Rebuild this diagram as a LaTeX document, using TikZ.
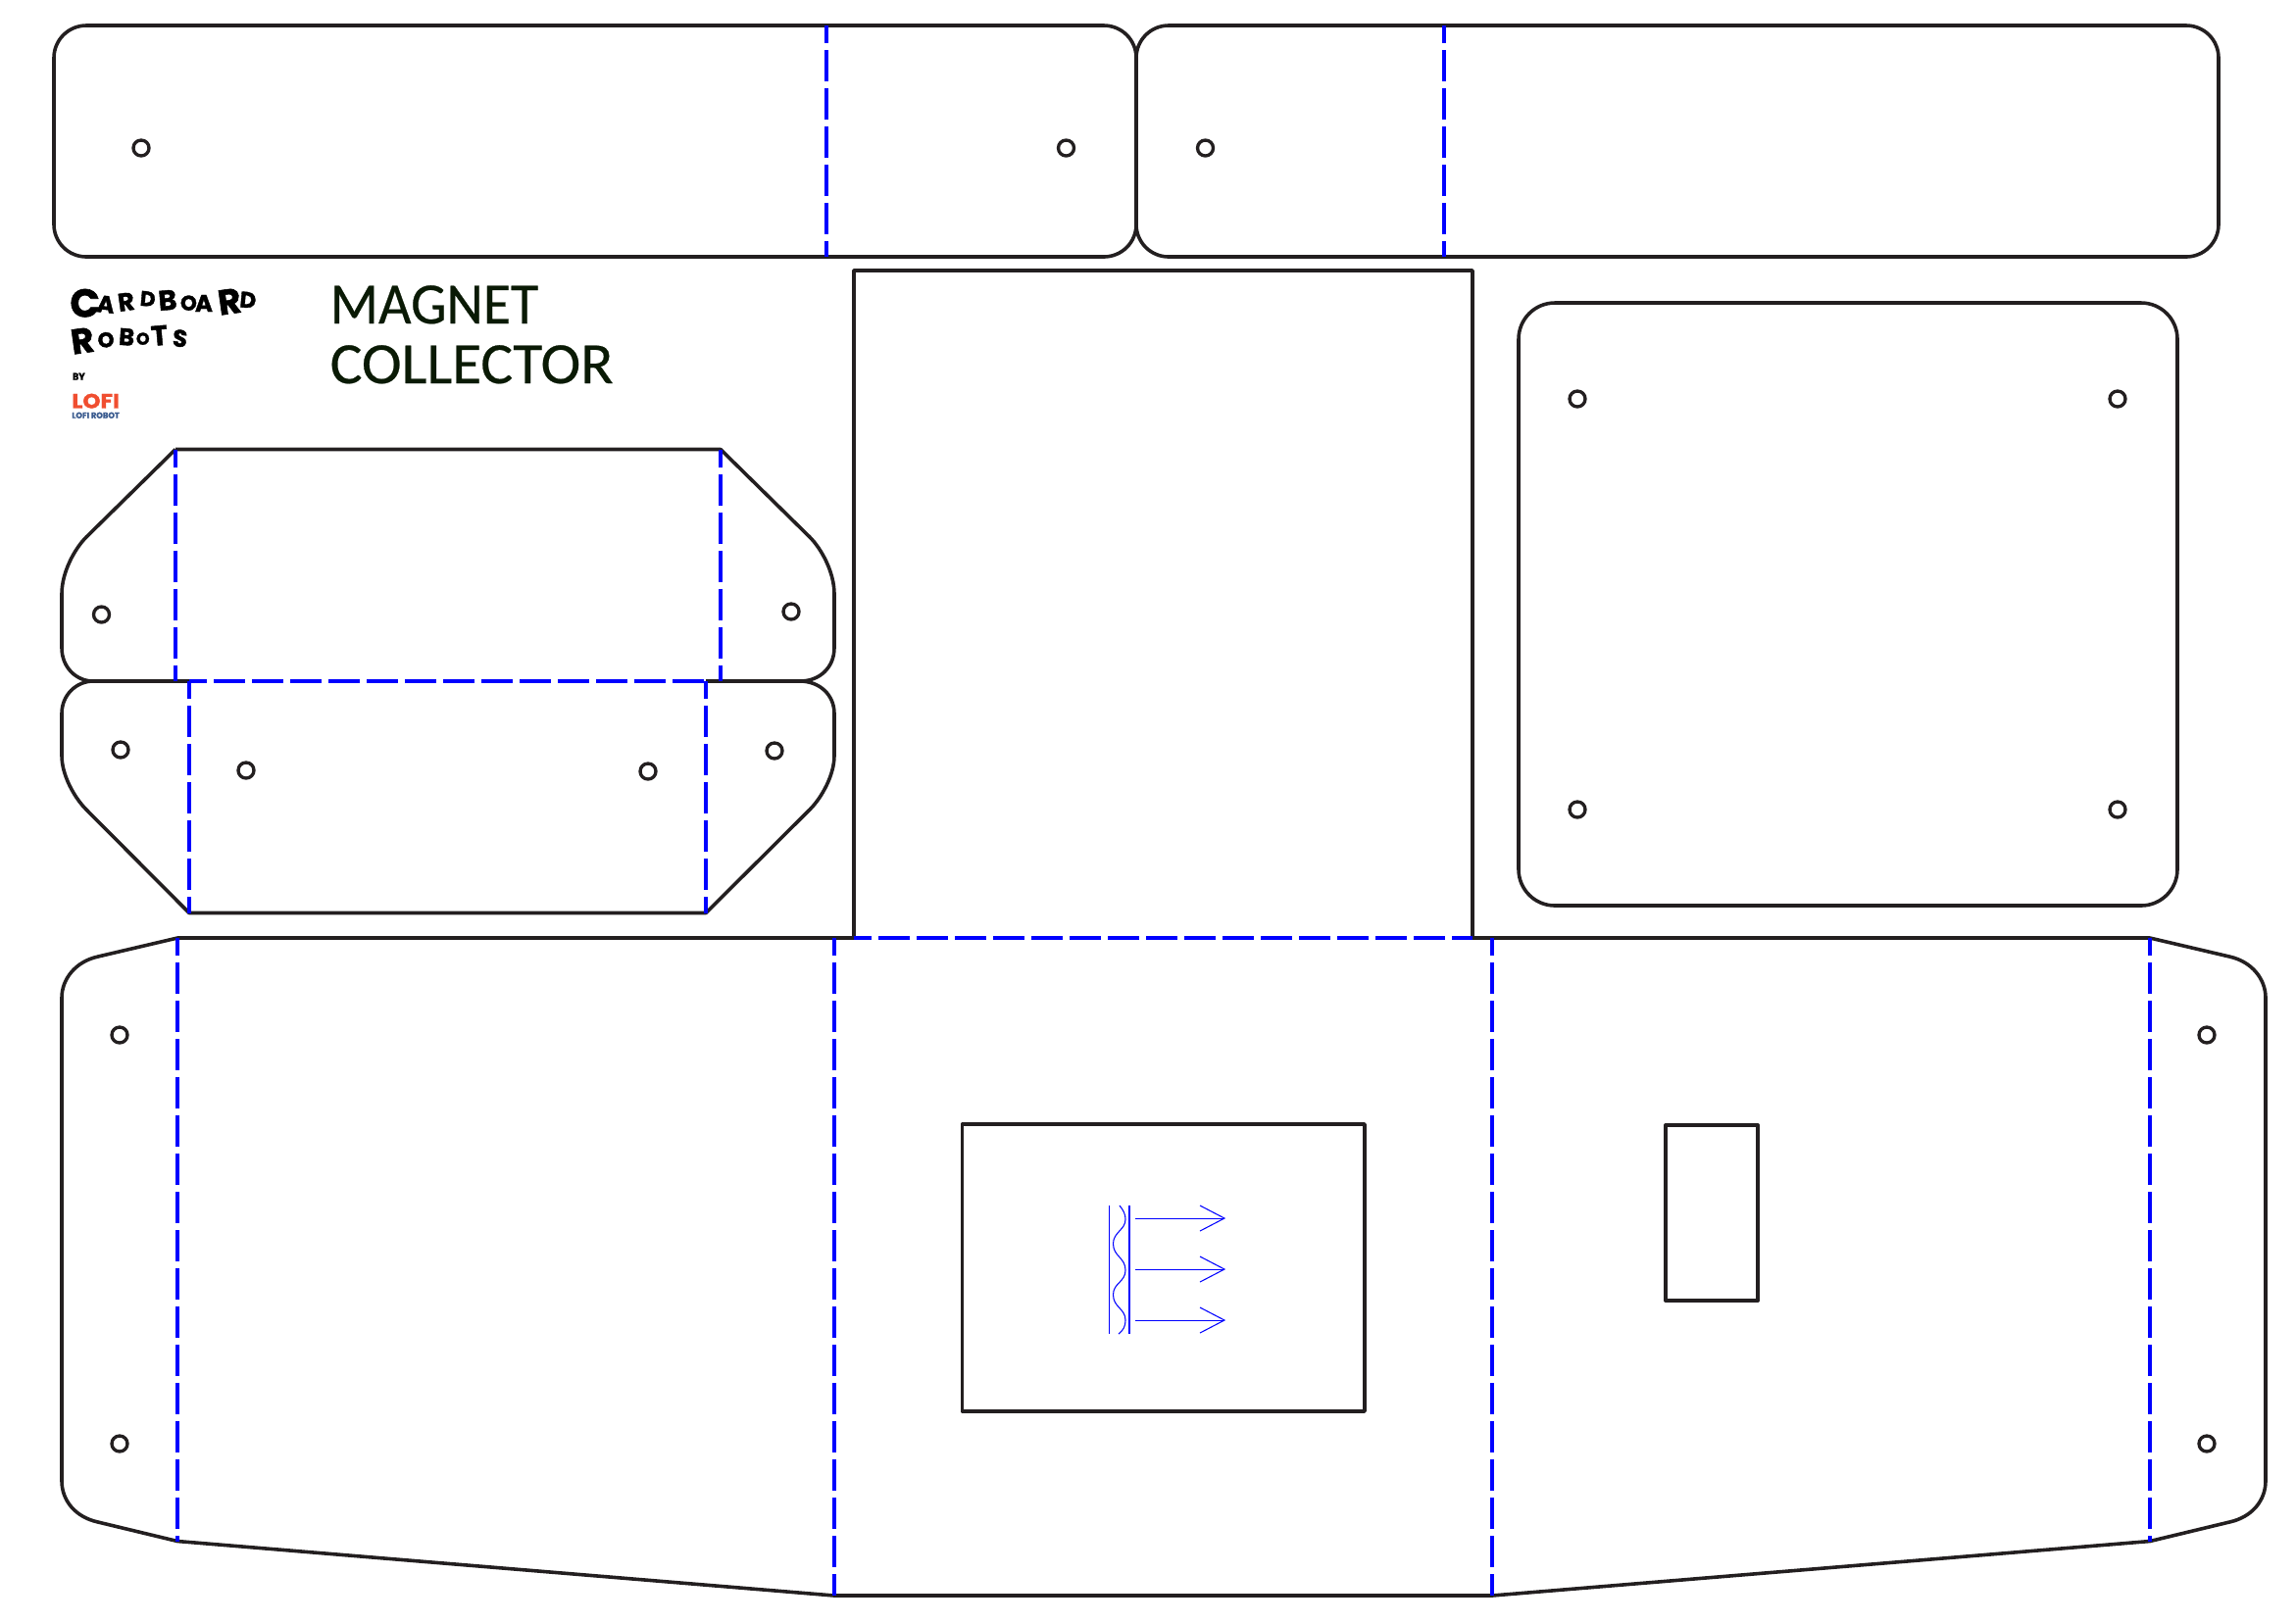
\documentclass[tikz,border=0pt]{standalone}
\usepackage{fontspec}
\setmainfont[FakeBold=0.4]{Carlito}
\newfontfamily\handfont[BoldFeatures={FakeBold=1.5}]{Poppins}
\usetikzlibrary{positioning}
\newcommand{\unitsize}{0.01cm}
\newlength{\handunit}
\setlength{\handunit}{0.01cm}
% one hand drawn letter: cell width, raise, angle, size, letter
\newcommand{\handletter}[5]{\makebox[#1\handunit][l]{\raisebox{#2\handunit}{\rotatebox{#3}{\fontsize{#4}{#4}\selectfont #5}}}}
\definecolor{cutblack}{HTML}{231F20}
\definecolor{foldblue}{HTML}{0000FF}
\definecolor{titledark}{HTML}{0A1A05}
\definecolor{lofired}{HTML}{F04E30}
\definecolor{lofiblue}{HTML}{3A5B8F}

\begin{document}
\begin{tikzpicture}[x=\unitsize,y=-\unitsize]
\useasboundingbox (0,0) rectangle (2342,1656);
\tikzstyle{cut}=[draw=cutblack,line width=1.02pt,line join=round]
\tikzstyle{fold}=[draw=foldblue,line width=1.13pt,dash pattern=on 0.32cm off 0.07cm,dash phase=0.14cm]
\tikzstyle{hole}=[draw=cutblack,circle,fill=white,line width=0.95pt,minimum size=0.16cm,inner sep=0pt]
\tikzstyle{thinblue}=[draw=foldblue,line width=0.3pt]
\tikzstyle{title}=[anchor=base west,inner sep=0pt,text=titledark,font=\fontsize{17}{20}\selectfont]
\tikzstyle{brand}=[anchor=north west,inner sep=0pt]
\tikzstyle{hand}=[anchor=base west,inner sep=0pt,font=\handfont\bfseries]

% top straps
\draw[cut,rounded corners=0.33cm] (55,26) rectangle (1159,262);
\draw[cut,rounded corners=0.33cm] (1159,26) rectangle (2263,262);
\draw[fold] (843,26) -- (843,262);
\draw[fold] (1473,26) -- (1473,262);

\node[hole] (strapa) at (144,151) {};
\node[hole] (strapb) at (1087.5,151) {};
\node[hole] (strapc) at (1229.5,151) {};

\begin{scope}[yshift=-0.01cm]
% side flaps
\draw[cut] (179,457.5) -- (735,457.5) -- (826,547)
  .. controls (838,559) and (851,583) .. (851,605) -- (851,660)
  .. controls (851,680) and (836,694) .. (816,694) -- (720,694);
\draw[cut] (193,694) -- (95,694) .. controls (78,694) and (63,680) .. (63,660)
  -- (63,605) .. controls (63,583) and (76,559) .. (88,547) -- (179,457.5);
\draw[cut] (95,694) .. controls (78,694) and (63,708) .. (63,727) -- (63,770)
  .. controls (63,790) and (76,813) .. (88,825) -- (193,930.5) -- (720,930.5) -- (826,825)
  .. controls (838,813) and (851,790) .. (851,770) -- (851,727)
  .. controls (851,708) and (836,694) .. (816,694);
\draw[fold] (179,457.5) -- (179,694);
\draw[fold] (735,457.5) -- (735,694);
\draw[fold] (193,694) -- (720,694);
\draw[fold] (193,694) -- (193,930.5);
\draw[fold] (720,694) -- (720,930.5);

\node[hole] (flapa) at (103.5,626) {};
\node[hole] (flapb) at (807,623) {};
\node[hole] (flapc) at (123,764) {};
\node[hole] (flapd) at (251,785) {};
\node[hole] (flape) at (661,786) {};
\node[hole] (flapf) at (790,765) {};

% back panel
\draw[cut] (871,956) -- (871,275) -- (1502,275) -- (1502,956);

% lid
\draw[cut,rounded corners=0.37cm] (1549,308) rectangle (2221,923);

\node[hole] (lida) at (1609,406) {};
\node[hole] (lidb) at (2160,406) {};
\node[hole] (lidc) at (1609,825) {};
\node[hole] (lidd) at (2160,825) {};

% main body
\draw[cut] (1502,956) -- (2193,956) -- (2274,975)
  .. controls (2297,980) and (2311,998) .. (2311,1017) -- (2311,1510)
  .. controls (2311,1530) and (2297,1547) .. (2274,1552) -- (2193,1571.5)
  -- (1522,1627) -- (851,1627) -- (181,1571.5) -- (100,1552)
  .. controls (77,1547) and (63,1530) .. (63,1510) -- (63,1017)
  .. controls (63,998) and (77,980) .. (100,975) -- (181,956) -- (871,956);
\draw[fold] (181,956) -- (181,1571.5);
\draw[fold] (851,956) -- (851,1627);
\draw[fold] (1522,956) -- (1522,1627);
\draw[fold] (2193,956) -- (2193,1571.5);
\draw[fold] (871,956) -- (1502,956);

\node[hole] (bodya) at (122,1055) {};
\node[hole] (bodyb) at (122,1472) {};
\node[hole] (bodyc) at (2251,1055) {};
\node[hole] (bodyd) at (2251,1472) {};

% cut-outs
\draw[cut] (981.5,1146) rectangle (1392,1439);
\draw[cut,line width=1.15pt] (1699,1147) rectangle (1793,1326);

% magnet mark
\draw[thinblue] (1131.5,1229) -- (1131.5,1360);
\draw[thinblue] (1152,1229) -- (1152,1360);
\draw[thinblue] (1142,1229) .. controls (1146,1234) and (1148,1238) .. (1148,1243)
  .. controls (1148,1254) and (1135.5,1256) .. (1135.5,1268)
  .. controls (1135.5,1281) and (1148,1282) .. (1148,1295)
  .. controls (1148,1307) and (1135.5,1308) .. (1135.5,1320)
  .. controls (1135.5,1333) and (1148,1334) .. (1148,1346)
  .. controls (1148,1352) and (1146,1356) .. (1141,1360);

\coordinate (arrowa) at (1158,1242);
\coordinate (arrowb) at (1158,1294);
\coordinate (arrowc) at (1158,1346);
\coordinate (tipa) at (1249,1242);
\coordinate (tipb) at (1249,1294);
\coordinate (tipc) at (1249,1346);
\draw[thinblue] (arrowa) -- (tipa);
\draw[thinblue] (arrowb) -- (tipb);
\draw[thinblue] (arrowc) -- (tipc);
\draw[thinblue] (1224,1229) -- (tipa) -- (1224,1255);
\draw[thinblue] (1224,1281) -- (tipb) -- (1224,1307);
\draw[thinblue] (1224,1333) -- (tipc) -- (1224,1359);
\end{scope}

% title
\node[title] (magnet) at (336,330) {\scalebox{0.966}[1]{MAGNET}};
\node[title] (collector) at (336,391) {\scalebox{1.027}[1]{COLLECTOR}};

% logo
\node[hand] (cardboard) at (70.7,323.3) {\handletter{26.7}{0}{0}{11.4}{C}\handletter{21}{5.3}{-6}{6.9}{A}\handletter{23.3}{5.3}{8}{7.3}{R}\handletter{18.3}{11.6}{-5}{6.1}{D}\handletter{23.3}{6.3}{5}{8.1}{B}\handletter{15}{6.6}{0}{6.1}{O}\handletter{21.7}{5.3}{0}{6.9}{A}\handletter{23.3}{1.6}{8}{10.2}{R}\handletter{16.7}{10}{-5}{6.5}{D}};
\node[hand] (robots) at (70,361.7) {\handletter{28.3}{0}{8}{10.2}{R}\handletter{21.7}{6.7}{5}{6.1}{O}\handletter{18.3}{10}{-4}{6.9}{B}\handletter{14.3}{10}{0}{4.9}{O}\handletter{22}{8.7}{5}{8.1}{T}\handletter{12}{8.7}{-6}{6.9}{S}};
\node[brand] (by) at (73.3,380) {\resizebox{0.127cm}{0.07cm}{\handfont\bfseries BY}};
\node[brand] (lofi) at (72.7,401) {\resizebox{0.485cm}{0.147cm}{\handfont\bfseries\textcolor{lofired}{LOFI}}};
\node[brand] (lofirobot) at (72.7,420) {\resizebox{0.485cm}{0.06cm}{\handfont\bfseries\textcolor{lofiblue}{LOFI ROBOT}}};
\end{tikzpicture}
\end{document}
